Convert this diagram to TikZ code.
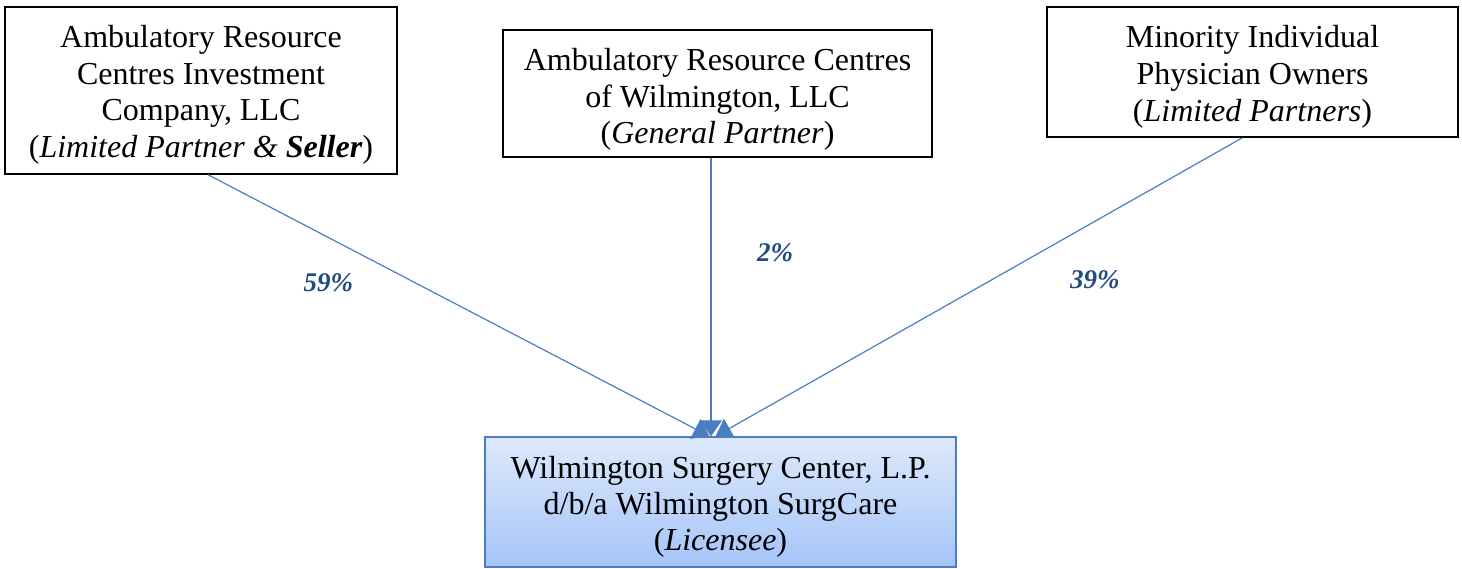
\documentclass[tikz,border=0pt]{standalone}
\usepackage{fontspec}
\setmainfont{Liberation Serif}
\usetikzlibrary{arrows.meta, positioning}

\definecolor{lineBlue}{RGB}{74,126,193}
\definecolor{pctBlue}{RGB}{36,74,130}
\definecolor{boxTop}{RGB}{222,233,252}
\definecolor{boxBottom}{RGB}{164,196,248}

% taller first line, pushes the text block down a little
\newcommand{\padTop}[1][32pt]{\rule{0pt}{#1}}

\begin{document}
\begin{tikzpicture}[
    x=1pt, y=-1pt,
    % Owner boxes: white, black outline
    ownerStyle/.style={
        draw,
        line width=1.4pt,
        align=center,
        inner sep=0pt,
        font=\fontsize{32}{36.7}\selectfont,
        fill=white
    },
    % Licensee box: blue gradient
    licenseeStyle/.style={
        draw=lineBlue,
        line width=1.4pt,
        align=center,
        inner sep=0pt,
        font=\fontsize{32}{36}\selectfont,
        top color=boxTop,
        bottom color=boxBottom
    },
    % Ownership arrows
    shareStyle/.style={
        draw=lineBlue,
        line width=1.2pt,
        -{Triangle[length=16pt, width=22pt]}
    },
    % Percent labels
    labelStyle/.style={
        font=\fontsize{27}{30}\selectfont\bfseries\itshape,
        text=pctBlue
    }
]
\useasboundingbox (0,0) rectangle (1462,569);

%--- Top row of nodes ---
\node[ownerStyle, minimum width=392pt, minimum height=167pt] (arcInvest) at (201,90.5)
  {\padTop[31pt]Ambulatory Resource\\Centres Investment\\Company, LLC\\(\textit{Limited Partner \& \textbf{Seller}})};
\node[ownerStyle, minimum width=429pt, minimum height=127pt] (arcWilm) at (717.5,93.5)
  {\padTop[34pt]Ambulatory Resource Centres\\of Wilmington, LLC\\(\textit{General Partner})};
\node[ownerStyle, minimum width=411pt, minimum height=130pt] (minority) at (1252.5,72)
  {\padTop[32pt]Minority Individual\\Physician Owners\\(\textit{Limited Partners})};

%--- Bottom node ---
\node[licenseeStyle, minimum width=471pt, minimum height=130pt] (licensee) at (720.5,502)
  {\padTop[31pt]Wilmington Surgery Center, L.P.\\d/b/a Wilmington SurgCare\\(\textit{Licensee})};

%-----------------------
%        Edges
%-----------------------
% (1) Investment company -> Licensee: 59%
\draw[shareStyle]
  ([xshift=7pt]arcInvest.south) -- node[labelStyle, pos=0.24, yshift=-45pt] {59\%} ([xshift=-11pt]licensee.north);

% (2) General partner -> Licensee: 2%
\draw[shareStyle]
  ([xshift=-6.5pt]arcWilm.south) -- node[labelStyle, pos=0.34, xshift=64pt] {2\%} ([xshift=-9.5pt]licensee.north);

% (3) Physician owners -> Licensee: 39%
\draw[shareStyle]
  ([xshift=-10pt]minority.south) -- node[labelStyle, pos=0.28, yshift=-58pt] {39\%} ([xshift=-5pt]licensee.north);
\end{tikzpicture}
\end{document}
